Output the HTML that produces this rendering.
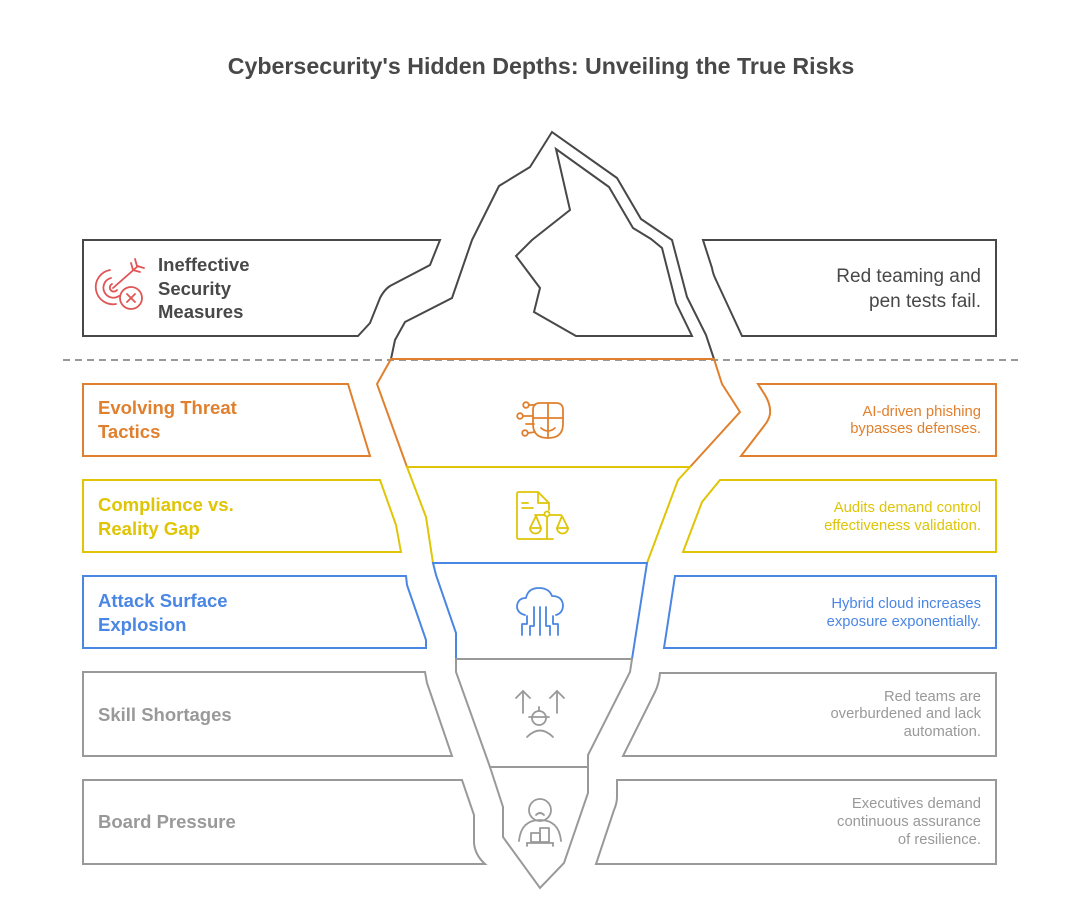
<!DOCTYPE html>
<html>
<head>
<meta charset="utf-8">
<style>
  html,body{margin:0;padding:0;background:#fff;}
  svg{display:block;}
  text{font-family:"Liberation Sans", Arial, sans-serif;}
  .lb{font-weight:bold;font-size:18.5px;}
  .rs{font-size:14.8px;text-anchor:end;}
</style>
</head>
<body>
<svg width="1080" height="913" viewBox="0 0 1080 913" xmlns="http://www.w3.org/2000/svg">
  <rect width="1080" height="913" fill="#fff"/>

  <!-- Title -->
  <text x="541" y="74" text-anchor="middle" font-size="23.2" font-weight="bold" fill="#484848">Cybersecurity's Hidden Depths: Unveiling the True Risks</text>

  <!-- dashed waterline -->
  <line x1="63" y1="360" x2="1020" y2="360" stroke="#999" stroke-width="2" stroke-dasharray="7,5"/>

  <g fill="none" stroke-width="2" stroke-linejoin="miter">
    <!-- Top boxes -->
    <path d="M83,240 L440,240 L430,265 L390,286 Q384,290 380,298 L370,323 L358,336 L83,336 Z" stroke="#484848"/>
    <path d="M703,240 L996,240 L996,336 L742,336 L716,280 Q713,274 712,268 Z" stroke="#484848"/>

    <!-- Iceberg top -->
    <path d="M391,359 L395,340 L405,322 L452,298 L472,240 L499,186 L530,167 L552,132 L617,178 L641,219 L672,240 L687,297 L706,335 L714,359" stroke="#484848"/>
    <path d="M556,149 L570,210 L532,240 L516,256 L540,288 L534,312 L576,336 L692,336 L676,303 L662,248 L651,239 L633,228 L609,187 Z" stroke="#484848"/>

    <!-- Orange -->
    <path d="M83,384 L348,384 L370,456 L83,456 Z" stroke="#E0802E"/>
    <path d="M758,384 L996,384 L996,456 L741,456 L764,426 Q769,420 770,414 Q771,405 765,395 Z" stroke="#E0802E"/>
    <path d="M391,359 L714,359 L722,384 L740,412 L690,467 L407,467 L377,384 Z" stroke="#E0802E"/>

    <!-- Yellow -->
    <path d="M83,480 L380,480 L396,525 L401,552 L83,552 Z" stroke="#DFC505"/>
    <path d="M720,480 L996,480 L996,552 L683,552 L702,502 Z" stroke="#DFC505"/>
    <path d="M407,467 L690,467 L678,480 L647,563 L433,563 L426,517 Z" stroke="#DFC505"/>

    <!-- Blue -->
    <path d="M83,576 L406,576 L407,585 L426,640 L426,648 L83,648 Z" stroke="#4A86E4"/>
    <path d="M675,576 L996,576 L996,648 L664,648 Z" stroke="#4A86E4"/>
    <path d="M433,563 L647,563 L632,659 L456,659 L456,633 L436,575 Z" stroke="#4A86E4"/>

    <!-- Gray 1 -->
    <path d="M83,672 L425,672 L427,683 L452,756 L83,756 Z" stroke="#999"/>
    <path d="M660,673 L996,673 L996,756 L623,756 L655,692 Q659,684 660,673 Z" stroke="#999"/>
    <path d="M456,659 L632,659 L630,672 L588,755 L588,767 L490,767 L456,672 Z" stroke="#999"/>

    <!-- Gray 2 -->
    <path d="M83,780 L462,780 L474,815 L474,843 Q475,855 485,864 L83,864 Z" stroke="#999"/>
    <path d="M617,780 L996,780 L996,864 L596,864 L614,810 Q617,803 617,797 Z" stroke="#999"/>
    <path d="M490,767 L588,767 L588,793 L564,863 L540,888 L503,837 L503,807 Z" stroke="#999"/>
  </g>

  <!-- Icon 1: target with X (red) -->
  <g fill="none" stroke="#E05555" stroke-width="1.8" stroke-linecap="round">
    <path d="M110,270 A17,17 0 1 0 116,304"/>
    <path d="M111,278 A10,10 0 1 0 119,296"/>
    <path d="M112,284 A4,4 0 1 0 117,290"/>
    <line x1="113" y1="288" x2="138" y2="266"/>
    <polyline points="131,263 133,270 140,272"/>
    <polyline points="135,259 137,266 144,268"/>
    <circle cx="131" cy="298" r="11"/>
    <line x1="127" y1="294" x2="135" y2="302"/>
    <line x1="135" y1="294" x2="127" y2="302"/>
  </g>

  <!-- Icon 2: orange mask with circuits -->
  <g fill="none" stroke="#E0802E" stroke-width="1.8" stroke-linecap="round">
    <path d="M533,410 Q533,403 540,403 L556,403 Q563,403 563,410 L563,424 Q563,438 548,438 Q533,438 533,424 Z"/>
    <line x1="548" y1="403" x2="548" y2="438"/>
    <line x1="533" y1="418" x2="563" y2="418"/>
    <path d="M541,428 Q548,434 555,428"/>
    <circle cx="526" cy="405" r="2.8"/>
    <circle cx="520" cy="416" r="2.8"/>
    <circle cx="525" cy="433" r="2.8"/>
    <line x1="529" y1="405" x2="535" y2="405"/>
    <line x1="523" y1="416" x2="533" y2="416"/>
    <line x1="528" y1="433" x2="535" y2="432"/>
    <line x1="526" y1="424" x2="534" y2="424"/>
  </g>

  <!-- Icon 3: yellow document with scales -->
  <g fill="none" stroke="#DFC505" stroke-width="1.8" stroke-linecap="round" stroke-linejoin="round">
    <path d="M541,539 L519,539 Q517,539 517,537 L517,494 Q517,492 519,492 L538,492 L549,503 L549,510"/>
    <path d="M538,492 L538,503 L549,503"/>
    <line x1="522" y1="503" x2="528" y2="503"/>
    <line x1="522" y1="508" x2="533" y2="508"/>
    <circle cx="547" cy="514" r="2.5"/>
    <line x1="535" y1="515" x2="544" y2="515"/>
    <line x1="550" y1="515" x2="561" y2="515"/>
    <line x1="547" y1="517" x2="547" y2="539"/>
    <line x1="541" y1="539" x2="553" y2="539"/>
    <path d="M530,528 L536,516 L541,528"/>
    <path d="M530,528 A5.5,5.5 0 0 0 541,528 Z"/>
    <path d="M557,528 L562,516 L568,528"/>
    <path d="M557,528 A5.5,5.5 0 0 0 568,528 Z"/>
  </g>

  <!-- Icon 4: blue cloud with circuits -->
  <g fill="none" stroke="#4A86E4" stroke-width="1.8" stroke-linecap="round" stroke-linejoin="round">
    <path d="M525,615 Q517,613 517,606 Q518,598 526,598 Q528,588 539,588 Q549,588 552,596 Q562,596 563,605 Q563,613 556,615"/>
    <line x1="540" y1="607" x2="540" y2="635"/>
    <path d="M534,607 V626 H530 V635"/>
    <path d="M527,616 V624 H522 V635"/>
    <path d="M546,607 V626 H550 V635"/>
    <path d="M553,616 V624 H558 V635"/>
  </g>

  <!-- Icon 5: gray engineer with arrows -->
  <g fill="none" stroke="#999" stroke-width="1.8" stroke-linecap="round" stroke-linejoin="round">
    <line x1="523" y1="691" x2="523" y2="713"/>
    <polyline points="516,698 523,691 530,698"/>
    <line x1="557" y1="691" x2="557" y2="713"/>
    <polyline points="550,698 557,691 564,698"/>
    <circle cx="539" cy="718" r="7"/>
    <line x1="529" y1="717" x2="549" y2="717"/>
    <line x1="539" y1="707" x2="539" y2="711"/>
    <path d="M527,737 Q540,724 553,737"/>
  </g>

  <!-- Icon 6: gray person with bars -->
  <g fill="none" stroke="#999" stroke-width="1.8" stroke-linecap="round" stroke-linejoin="round">
    <circle cx="540" cy="810" r="11"/>
    <path d="M536,815 Q540,811 544,815"/>
    <path d="M519,841 Q521,820 540,820 Q559,820 561,841"/>
    <rect x="531" y="833" width="9" height="9"/>
    <rect x="540" y="828" width="9" height="14"/>
    <line x1="527" y1="843" x2="553" y2="843"/>
    <line x1="527" y1="843" x2="527" y2="846"/>
    <line x1="553" y1="843" x2="553" y2="846"/>
  </g>

  <!-- Left labels -->
  <text class="lb" fill="#484848"><tspan x="158" y="271">Ineffective</tspan><tspan x="158" y="295">Security</tspan><tspan x="158" y="318">Measures</tspan></text>
  <text class="lb" fill="#E0802E"><tspan x="98" y="414">Evolving Threat</tspan><tspan x="98" y="438">Tactics</tspan></text>
  <text class="lb" fill="#DFC505"><tspan x="98" y="511">Compliance vs.</tspan><tspan x="98" y="535">Reality Gap</tspan></text>
  <text class="lb" fill="#4A86E4"><tspan x="98" y="607">Attack Surface</tspan><tspan x="98" y="631">Explosion</tspan></text>
  <text class="lb" fill="#999"><tspan x="98" y="721">Skill Shortages</tspan></text>
  <text class="lb" fill="#999"><tspan x="98" y="828">Board Pressure</tspan></text>

  <!-- Right descriptions -->
  <text font-size="19" text-anchor="end" fill="#484848"><tspan x="981" y="282">Red teaming and</tspan><tspan x="981" y="307">pen tests fail.</tspan></text>
  <text class="rs" fill="#E0802E"><tspan x="981" y="416">AI-driven phishing</tspan><tspan x="981" y="433">bypasses defenses.</tspan></text>
  <text class="rs" fill="#DFC505"><tspan x="981" y="512">Audits demand control</tspan><tspan x="981" y="530">effectiveness validation.</tspan></text>
  <text class="rs" fill="#4A86E4"><tspan x="981" y="608">Hybrid cloud increases</tspan><tspan x="981" y="626">exposure exponentially.</tspan></text>
  <text class="rs" fill="#999"><tspan x="981" y="701">Red teams are</tspan><tspan x="981" y="718">overburdened and lack</tspan><tspan x="981" y="736">automation.</tspan></text>
  <text class="rs" fill="#999"><tspan x="981" y="808">Executives demand</tspan><tspan x="981" y="826">continuous assurance</tspan><tspan x="981" y="844">of resilience.</tspan></text>
</svg>
</body>
</html>
